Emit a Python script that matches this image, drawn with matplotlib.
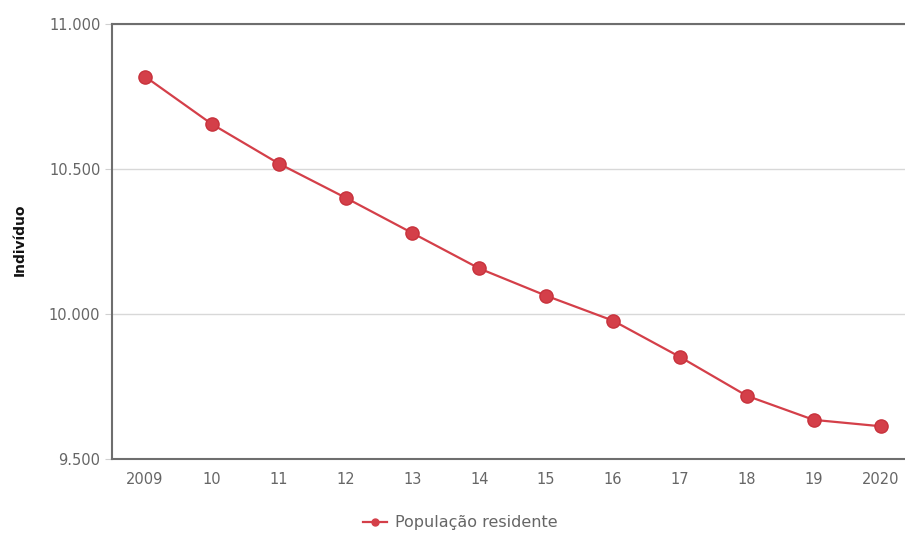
import matplotlib
matplotlib.use("Agg")
import matplotlib.pyplot as plt
from matplotlib.lines import Line2D

categories = ["2009", "10", "11", "12", "13", "14", "15", "16", "17", "18", "19", "2020"]
values = [10820, 10656, 10520, 10402, 10280, 10158, 10064, 9978, 9853, 9719, 9636, 9614]
yticks = [9500, 10000, 10500, 11000]
yticklabels = ["9.500", "10.000", "10.500", "11.000"]
series_name = "População residente"
ylabel = "Indivíduo"

W, H = 905, 533
fig = plt.figure(figsize=(W / 100, H / 100), dpi=100)
left, right, top, bottom = 111.5, 914, 24.3, 459.3
ax = fig.add_axes([left / W, 1 - bottom / H, (right - left) / W, (bottom - top) / H])

x = list(range(len(categories)))
red = "#d43f49"
ax.plot(x, values, color=red, lw=1.6, marker="o", ms=9.5, mfc=red, mec="#c8323c", mew=1, zorder=3)

ax.set_xlim(-0.5, len(categories) - 0.5)
ax.set_ylim(9500, 11000)
ax.set_xticks(x)
ax.set_xticklabels(categories)
ax.set_yticks(yticks)
ax.set_yticklabels(yticklabels)
ax.grid(axis="y", color="#d8d8d8", lw=1)
ax.set_axisbelow(True)

for s in ["left", "bottom", "top"]:
    ax.spines[s].set_color("#6e6e6e")
    ax.spines[s].set_linewidth(1.5)
ax.spines["right"].set_visible(False)

ax.tick_params(axis="y", length=5, color="#d0d0d0", labelcolor="#666666", labelsize=10.5, pad=3)
ax.tick_params(axis="x", length=0, labelcolor="#666666", labelsize=10.5, pad=9)

fig.text(20 / W, 1 - 240 / H, ylabel, rotation=90, ha="center", va="center", fontsize=10,
         color="#111111", fontweight="semibold")

handle = Line2D([], [], color=red, lw=1.6, marker="o", ms=5, mfc=red, mec=red)
fig.legend([handle], [series_name], loc="center", bbox_to_anchor=(460 / W, 1 - 523 / H),
           frameon=False, fontsize=11.5, labelcolor="#666666", handlelength=1.5, handletextpad=0.5)

fig.savefig("out.png", dpi=100)
